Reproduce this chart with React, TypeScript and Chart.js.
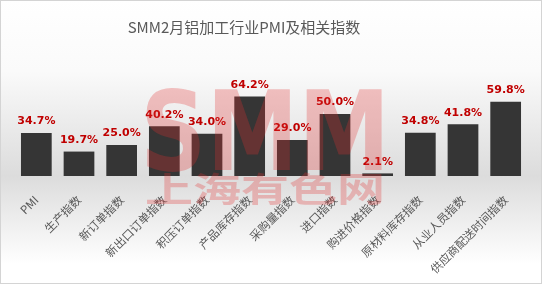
import React, { useEffect, useRef } from "react";
import { Chart, registerables } from "chart.js";

Chart.register(...registerables);

const title = "SMM2月铝加工行业PMI及相关指数";
const categories = [
  "PMI",
  "生产指数",
  "新订单指数",
  "新出口订单指数",
  "积压订单指数",
  "产品库存指数",
  "采购量指数",
  "进口指数",
  "购进价格指数",
  "原材料库存指数",
  "从业人员指数",
  "供应商配送时间指数",
];
const values = [34.7, 19.7, 25.0, 40.2, 34.0, 64.2, 29.0, 50.0, 2.1, 34.8, 41.8, 59.8];
const watermarkTop = "SMM";
const watermarkBottom = "上海有色网";

const W = 542;
const H = 284;

export default function App() {
  const ref = useRef<HTMLCanvasElement | null>(null);

  useEffect(() => {
    document.body.style.margin = "0";
    const canvas = ref.current;
    if (!canvas) return;

    const bgPlugin = {
      id: "bg",
      beforeDraw(chart: any) {
        const ctx = chart.ctx;
        ctx.save();
        const g = ctx.createLinearGradient(0, 0, 0, H);
        g.addColorStop(0, "#ffffff");
        g.addColorStop(0.25, "#fafafa");
        g.addColorStop(0.62, "#dcdcdc");
        g.addColorStop(0.93, "#ffffff");
        g.addColorStop(1, "#ffffff");
        ctx.fillStyle = g;
        ctx.fillRect(0, 0, W, H);
        ctx.strokeStyle = "#d4d4d4";
        ctx.lineWidth = 1;
        ctx.strokeRect(0.5, 0.5, W - 1, H - 1);
        ctx.fillStyle = "#595959";
        ctx.font = '15px "Noto Sans CJK SC", sans-serif';
        ctx.textAlign = "center";
        ctx.textBaseline = "middle";
        ctx.fillText(title, 244, 27);
        ctx.restore();
      },
      afterDatasetsDraw(chart: any) {
        const ctx = chart.ctx;
        const meta = chart.getDatasetMeta(0);
        ctx.save();
        ctx.fillStyle = "#c00000";
        ctx.font = 'bold 11px "DejaVu Sans", sans-serif';
        ctx.textAlign = "center";
        ctx.textBaseline = "bottom";
        meta.data.forEach((bar: any, i: number) => {
          ctx.fillText(values[i].toFixed(1) + "%", bar.x, bar.y - 6);
        });
        ctx.restore();

        // watermark
        ctx.save();
        ctx.fillStyle = "rgba(225, 45, 45, 0.28)";
        ctx.textAlign = "center";
        ctx.textBaseline = "alphabetic";
        ctx.font = 'bold 110px "DejaVu Sans", sans-serif';
        const w1 = ctx.measureText(watermarkTop).width;
        ctx.translate(265, 170);
        ctx.scale(250 / w1, 1);
        ctx.fillText(watermarkTop, 0, 0);
        ctx.restore();

        ctx.save();
        ctx.fillStyle = "rgba(225, 45, 45, 0.28)";
        ctx.textAlign = "center";
        ctx.textBaseline = "middle";
        ctx.font = 'bold 48px "Noto Sans CJK SC", sans-serif';
        const w2 = ctx.measureText(watermarkBottom).width;
        ctx.translate(265, 189);
        ctx.scale(240 / w2, 0.72);
        ctx.fillText(watermarkBottom, 0, 0);
        ctx.restore();
      },
    };

    const chart = new Chart(canvas, {
      type: "bar",
      data: {
        labels: categories,
        datasets: [
          {
            data: values,
            backgroundColor: "#353535",
            categoryPercentage: 0.72,
            barPercentage: 1,
          },
        ],
      },
      options: {
        responsive: false,
        animation: false,
        layout: { padding: { top: 52, left: 15, right: 15, bottom: 0 } },
        plugins: {
          legend: { display: false },
          title: { display: false },
          tooltip: { enabled: false },
        },
        scales: {
          x: {
            grid: { display: false },
            border: { display: false },
            ticks: {
              color: "#595959",
              font: { size: 11.5, family: '"Noto Sans CJK SC", sans-serif' },
              maxRotation: 45,
              minRotation: 45,
              padding: 9,
              autoSkip: false,
            },
            afterFit(scale: any) {
              scale.height = 108;
            },
          },
          y: {
            display: false,
            min: 0,
            max: 100,
          },
        },
      },
      plugins: [bgPlugin],
    });

    return () => chart.destroy();
  }, []);

  return (
    <div style={{ width: W, height: H }}>
      <canvas ref={ref} width={W} height={H} style={{ width: W, height: H, display: "block" }} />
    </div>
  );
}
